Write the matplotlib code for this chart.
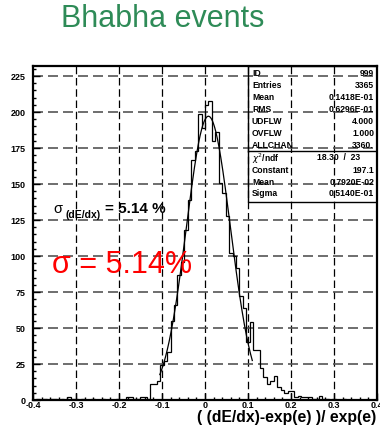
import numpy as np
import matplotlib.pyplot as plt
from matplotlib.patches import Rectangle
from matplotlib.ticker import MultipleLocator, FuncFormatter

plt.rcParams['font.family'] = ['Liberation Sans', 'DejaVu Sans']

# histogram: 100 bins of 0.008 from -0.4 to 0.4
x_lo, x_hi, n_bins = -0.4, 0.4, 100
counts = [
    0, 1, 0, 1, 0, 1, 1, 0, 1, 0,
    2, 1, 1, 0, 1, 0, 0, 1, 0, 0,
    1, 0, 0, 0, 1, 0, 0, 2, 2, 1,
    1, 2, 2, 1, 11, 11, 13, 24, 27, 33,
    55, 66, 87, 96, 118, 139, 167, 173, 199, 189,
    205, 208, 180, 186, 151, 144, 128, 102, 100, 92,
    72, 64, 40, 54, 35, 35, 22, 16, 11, 13,
    17, 9, 7, 5, 6, 6, 2, 3, 2, 2,
    2, 1, 1, 3, 1, 1, 0, 1, 0, 0,
    1, 0, 0, 0, 0, 0, 0, 0, 0, 0,
]

# gaussian fit
fit_const = 197.1
fit_mean = 0.7920e-02
fit_sigma = 0.5140e-01
fit_range = (-0.105, 0.11)

# statistics box rows
stat_labels = ['ID', 'Entries', 'Mean', 'RMS', 'UDFLW', 'OVFLW', 'ALLCHAN']
stat_values = ['999', '3365', '0.1418E-01', '0.6296E-01', '4.000', '1.000', '3360.']
fit_labels = [r'$\chi^2$/ndf', 'Constant', 'Mean', 'Sigma']
fit_values = ['18.30  /  23', '197.1', '0.7920E-02', '0.5140E-01']

W, H = 380, 436


def fx(px):
    return px / W


def fy(py):
    return 1 - py / H


fig = plt.figure(figsize=(W / 100, H / 100), dpi=100)
ax = fig.add_axes([fx(33), fy(400), fx(344), 334 / H])

edges = np.linspace(x_lo, x_hi, n_bins + 1)
ax.stairs(counts, edges, color='black', lw=0.9, zorder=3)

xf = np.linspace(fit_range[0], fit_range[1], 300)
yf = fit_const * np.exp(-0.5 * ((xf - fit_mean) / fit_sigma) ** 2)
ax.plot(xf, yf, color='black', lw=0.9, zorder=4)

ax.set_xlim(x_lo, x_hi)
ax.set_ylim(0, 232)

# dashed grid
for gx in np.arange(-0.3, 0.31, 0.1):
    ax.axvline(gx, color='black', lw=0.9, dashes=(6, 3), zorder=1)
for gy in range(25, 226, 25):
    ax.axhline(gy, color='#555555', lw=1.2, dashes=(6, 3), zorder=1)

ax.xaxis.set_major_locator(MultipleLocator(0.1))
ax.xaxis.set_minor_locator(MultipleLocator(0.02))
ax.yaxis.set_major_locator(MultipleLocator(25))
ax.yaxis.set_minor_locator(MultipleLocator(5))
ax.xaxis.set_major_formatter(FuncFormatter(lambda v, p: '0' if abs(v) < 1e-9 else f'{v:.1f}'))
ax.tick_params(which='both', direction='in', top=False, right=False, width=1)
ax.tick_params(which='major', length=5)
ax.tick_params(which='minor', length=2.5)
ax.tick_params(axis='y', pad=5.5)
ax.tick_params(axis='x', pad=1)
for lab in ax.get_xticklabels() + ax.get_yticklabels():
    lab.set_fontsize(6.5)
    lab.set_fontweight('bold')
for s in ax.spines.values():
    s.set_linewidth(1.6)

# statistics box
ax.add_patch(Rectangle((0.625, 0.593), 0.375, 0.407, transform=ax.transAxes,
                       fill=False, lw=1.0, ec='black', zorder=5))
ax.plot([0.625, 1.0], [0.746, 0.746], transform=ax.transAxes, color='black', lw=1.0, zorder=5)

row_y = [72, 84, 96, 108, 120, 132, 144]
for lab, val, y in zip(stat_labels, stat_values, row_y):
    fig.text(fx(252), fy(y), lab, fontsize=6.2, fontweight='bold', va='center_baseline')
    fig.text(fx(374), fy(y), val, fontsize=6.2, fontweight='bold', va='center_baseline', ha='right')
fit_y = [157, 169, 181, 193]
for lab, val, y in zip(fit_labels, fit_values, fit_y):
    fig.text(fx(252), fy(y), lab, fontsize=6.2, fontweight='bold', va='center_baseline')
    right = 360 if lab.startswith('$') else 374
    fig.text(fx(right), fy(y), val, fontsize=6.2, fontweight='bold', va='center_baseline', ha='right')

# title and axis label
fig.text(fx(163), fy(27), 'Bhabha events', fontsize=22, color='#2e8b57', ha='center', va='baseline')
fig.text(fx(376), fy(422), '( (dE/dx)-exp(e) )/ exp(e)', fontsize=11.3, fontweight='bold',
         ha='right', va='baseline')

# resolution annotations
fig.text(fx(53), fy(213), 'σ', fontsize=10.5, va='baseline')
fig.text(fx(65), fy(218), '(dE/dx)', fontsize=7.5, fontweight='bold', va='baseline')
fig.text(fx(105), fy(213), '= 5.14 %', fontsize=11, fontweight='bold', va='baseline')
fig.text(fx(52), fy(273), 'σ = 5.14%', fontsize=22, color='red', va='baseline')

fig.savefig('out.png', dpi=100)
